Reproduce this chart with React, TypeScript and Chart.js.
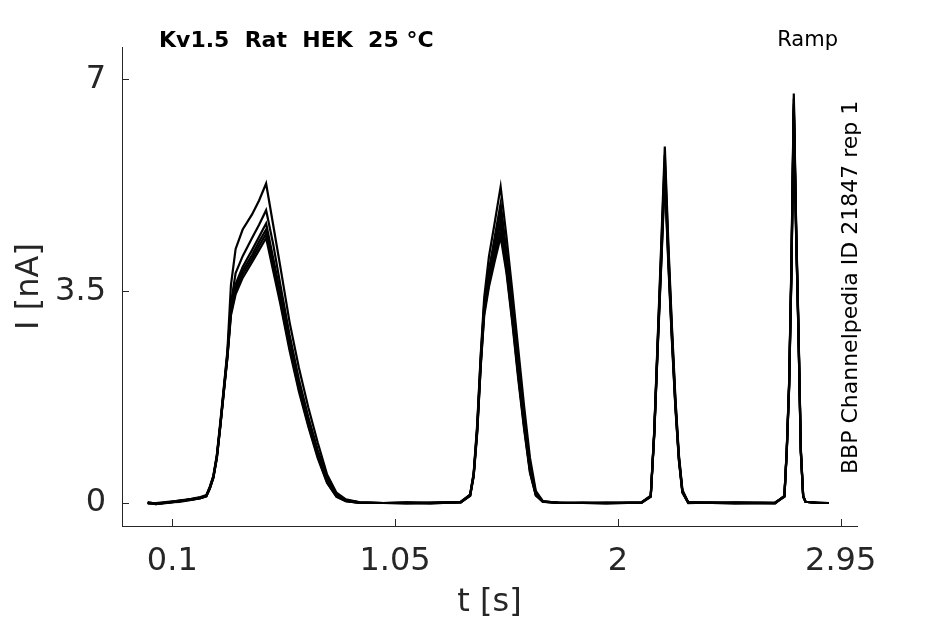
import React, { useEffect, useRef } from "react";
import { Chart, registerables } from "chart.js";

Chart.register(...registerables);

// sample times [s], shared by every sweep
const timeS = [
  -0.005, 0.03, 0.08, 0.13, 0.18, 0.22, 0.245, 0.26, 0.275, 0.29,
  0.305, 0.32, 0.335, 0.35, 0.37, 0.4, 0.44, 0.47, 0.5, 0.53,
  0.56, 0.6, 0.64, 0.68, 0.72, 0.76, 0.8, 0.84, 0.9, 1.0,
  1.1, 1.2, 1.33, 1.37, 1.385, 1.4, 1.415, 1.43, 1.45, 1.475,
  1.5, 1.525, 1.55, 1.575, 1.6, 1.625, 1.65, 1.68, 1.75, 1.85,
  1.95, 2.1, 2.14, 2.155, 2.17, 2.185, 2.2, 2.215, 2.23, 2.245,
  2.26, 2.275, 2.3, 2.4, 2.5, 2.67, 2.71, 2.72, 2.73, 2.74,
  2.75, 2.76, 2.77, 2.78, 2.79, 2.8, 2.85, 2.9,
];

// current [nA] per sweep
const sweepA = [
  0.0, -0.02, 0.01, 0.04, 0.07, 0.1, 0.13, 0.27, 0.45, 0.8,
  1.35, 1.93, 2.52, 3.6, 4.2, 4.52, 4.77, 5.0, 5.28, 4.6,
  3.92, 2.99, 2.23, 1.58, 1.0, 0.47, 0.17, 0.06, 0.01, 0.0,
  -0.01, 0.0, 0.02, 0.14, 0.5, 1.3, 2.45, 3.4, 4.07, 4.64,
  5.23, 4.4, 3.5, 2.55, 1.6, 0.75, 0.2, 0.03, 0.0, 0.0,
  -0.01, 0.01, 0.12, 1.2, 2.75, 4.3, 5.89, 4.3, 2.95, 1.75,
  0.8, 0.22, 0.01, 0.0, -0.01, 0.0, 0.12, 0.9, 2.0, 4.0,
  6.77, 4.6, 2.9, 0.9, 0.12, 0.02, 0.0, 0.0,
];
const sweepB = [
  0.01, -0.01, 0.0, 0.03, 0.06, 0.09, 0.12, 0.26, 0.44, 0.78,
  1.32, 1.9, 2.48, 3.3, 3.8, 4.08, 4.38, 4.6, 4.84, 4.28,
  3.62, 2.78, 2.04, 1.42, 0.88, 0.42, 0.15, 0.05, 0.01, 0.0,
  0.0, -0.01, 0.02, 0.14, 0.48, 1.25, 2.4, 3.3, 3.85, 4.4,
  4.95, 4.15, 3.3, 2.35, 1.45, 0.65, 0.17, 0.03, 0.0, 0.01,
  0.0, 0.0, 0.12, 1.18, 2.7, 4.2, 5.75, 4.2, 2.88, 1.7,
  0.77, 0.2, 0.01, 0.01, 0.0, -0.01, 0.12, 0.88, 1.97, 3.95,
  6.68, 4.55, 2.86, 0.88, 0.12, 0.02, 0.01, 0.0,
];
const sweepC = [
  -0.01, 0.0, 0.02, 0.03, 0.06, 0.09, 0.12, 0.25, 0.43, 0.77,
  1.3, 1.88, 2.45, 3.22, 3.62, 3.9, 4.18, 4.4, 4.62, 4.05,
  3.48, 2.68, 1.96, 1.36, 0.83, 0.38, 0.13, 0.04, 0.0, 0.0,
  0.01, 0.0, 0.01, 0.13, 0.47, 1.22, 2.35, 3.25, 3.75, 4.28,
  4.8, 4.0, 3.15, 2.22, 1.35, 0.58, 0.15, 0.02, 0.01, 0.0,
  0.0, 0.01, 0.11, 1.16, 2.66, 4.12, 5.62, 4.12, 2.82, 1.66,
  0.75, 0.19, 0.01, 0.0, 0.01, 0.0, 0.11, 0.87, 1.95, 3.9,
  6.6, 4.5, 2.83, 0.86, 0.11, 0.02, 0.0, 0.0,
];
const sweepD = [
  0.0, -0.02, 0.01, 0.04, 0.05, 0.08, 0.12, 0.25, 0.42, 0.76,
  1.29, 1.86, 2.43, 3.18, 3.56, 3.84, 4.1, 4.32, 4.52, 3.96,
  3.4, 2.62, 1.92, 1.32, 0.8, 0.36, 0.12, 0.04, 0.01, 0.0,
  0.0, 0.01, 0.01, 0.13, 0.46, 1.2, 2.3, 3.2, 3.68, 4.18,
  4.65, 3.92, 3.08, 2.15, 1.3, 0.55, 0.14, 0.02, 0.0, 0.0,
  0.01, 0.0, 0.11, 1.15, 2.63, 4.06, 5.52, 4.06, 2.78, 1.63,
  0.73, 0.18, 0.01, 0.0, 0.0, 0.01, 0.11, 0.86, 1.93, 3.86,
  6.55, 4.46, 2.8, 0.85, 0.11, 0.02, 0.0, 0.0,
];
const sweepE = [
  0.01, -0.01, 0.0, 0.03, 0.06, 0.08, 0.11, 0.24, 0.42, 0.75,
  1.28, 1.85, 2.41, 3.14, 3.5, 3.78, 4.04, 4.25, 4.45, 3.9,
  3.35, 2.57, 1.88, 1.29, 0.77, 0.34, 0.11, 0.03, 0.0, 0.0,
  0.0, 0.0, 0.02, 0.12, 0.45, 1.18, 2.27, 3.15, 3.62, 4.08,
  4.5, 3.85, 3.02, 2.1, 1.26, 0.52, 0.13, 0.02, 0.0, 0.0,
  0.0, 0.01, 0.11, 1.14, 2.6, 4.0, 5.45, 4.0, 2.74, 1.61,
  0.72, 0.18, 0.0, 0.01, 0.0, 0.0, 0.11, 0.85, 1.91, 3.83,
  6.5, 4.43, 2.78, 0.84, 0.11, 0.02, 0.0, 0.0,
];
const sweepF = [
  0.0, -0.01, 0.01, 0.02, 0.05, 0.08, 0.11, 0.24, 0.41, 0.74,
  1.27, 1.84, 2.4, 3.1, 3.45, 3.72, 3.98, 4.18, 4.38, 3.84,
  3.3, 2.52, 1.84, 1.26, 0.74, 0.33, 0.1, 0.03, 0.0, 0.0,
  0.01, 0.0, 0.01, 0.12, 0.44, 1.15, 2.25, 3.1, 3.57, 4.0,
  4.4, 3.8, 2.97, 2.05, 1.22, 0.5, 0.12, 0.02, 0.0, 0.0,
  0.0, 0.0, 0.1, 1.12, 2.57, 3.95, 5.38, 3.95, 2.7, 1.58,
  0.7, 0.17, 0.0, 0.0, 0.01, 0.0, 0.1, 0.84, 1.89, 3.8,
  6.45, 4.4, 2.76, 0.83, 0.1, 0.02, 0.0, 0.0,
];

const sweeps = [sweepA, sweepB, sweepC, sweepD, sweepE, sweepF];

const xTicks = [0.1, 1.05, 2, 2.95];
const yTicks = [0, 3.5, 7];

const titleText = "Kv1.5  Rat  HEK  25 °C";
const protocolText = "Ramp";
const sourceText = "BBP Channelpedia ID 21847 rep 1";

const AXIS_COLOR = "#262626";
const FONT = "'DejaVu Sans', sans-serif";

// matlab style ticks pointing into the plot
const innerTicks = {
  id: "innerTicks",
  afterDraw(chart: Chart) {
    const { ctx, chartArea, scales } = chart;
    const len = 7;
    ctx.save();
    ctx.strokeStyle = AXIS_COLOR;
    ctx.lineWidth = 1;
    ctx.beginPath();
    xTicks.forEach((v) => {
      const px = Math.round(scales.x.getPixelForValue(v)) + 0.5;
      ctx.moveTo(px, chartArea.bottom);
      ctx.lineTo(px, chartArea.bottom - len);
    });
    yTicks.forEach((v) => {
      const py = Math.round(scales.y.getPixelForValue(v)) + 0.5;
      ctx.moveTo(chartArea.left, py);
      ctx.lineTo(chartArea.left + len, py);
    });
    ctx.stroke();
    ctx.restore();
  },
};

const panelText = {
  id: "panelText",
  afterDraw(chart: Chart) {
    const { ctx } = chart;
    ctx.save();
    ctx.fillStyle = "#000";
    ctx.textBaseline = "alphabetic";
    ctx.font = `bold 22px ${FONT}`;
    ctx.textAlign = "left";
    ctx.fillText(titleText, 159, 47);
    ctx.font = `21px ${FONT}`;
    ctx.textAlign = "right";
    ctx.fillText(protocolText, 838, 46);
    ctx.translate(857, 474);
    ctx.rotate(-Math.PI / 2);
    ctx.textAlign = "left";
    ctx.font = `22px ${FONT}`;
    ctx.fillText(sourceText, 0, 0);
    ctx.restore();
  },
};

const App: React.FC = () => {
  const chartRef = useRef<HTMLCanvasElement>(null);
  const chartInstance = useRef<Chart | null>(null);

  useEffect(() => {
    if (!chartRef.current) return;
    if (chartInstance.current) chartInstance.current.destroy();
    const ctx = chartRef.current.getContext("2d");
    if (!ctx) return;

    chartInstance.current = new Chart(ctx, {
      type: "line",
      data: {
        datasets: sweeps.map((sweep, i) => ({
          label: `sweep ${i + 1}`,
          data: timeS.map((t, k) => ({ x: t, y: sweep[k] })),
          borderColor: "#000",
          borderWidth: 2.2,
          pointRadius: 0,
          tension: 0,
          fill: false,
        })),
      },
      options: {
        animation: false,
        responsive: true,
        maintainAspectRatio: false,
        layout: { padding: { left: 0, top: 47, right: 88, bottom: 0 } },
        plugins: {
          legend: { display: false },
          tooltip: { enabled: false },
          title: { display: false },
        },
        scales: {
          x: {
            type: "linear",
            min: -0.1145,
            max: 3.0195,
            afterBuildTicks: (scale: any) => {
              scale.ticks = xTicks.map((v) => ({ value: v }));
            },
            afterFit: (scale: any) => {
              scale.height = 98;
            },
            grid: { display: false, drawTicks: false },
            border: { display: true, color: AXIS_COLOR, width: 1 },
            ticks: {
              color: AXIS_COLOR,
              font: { family: FONT, size: 32 },
              padding: 16,
              maxRotation: 0,
              autoSkip: false,
              callback: (v: any) => String(Number(v)),
            },
            title: {
              display: true,
              text: "t [s]",
              color: AXIS_COLOR,
              font: { family: FONT, size: 32 },
              padding: { top: 0, bottom: 2 },
            },
          },
          y: {
            type: "linear",
            min: -0.38,
            max: 7.537,
            afterBuildTicks: (scale: any) => {
              scale.ticks = yTicks.map((v) => ({ value: v }));
            },
            afterFit: (scale: any) => {
              scale.width = 122;
            },
            grid: { display: false, drawTicks: false },
            border: { display: true, color: AXIS_COLOR, width: 1 },
            ticks: {
              color: AXIS_COLOR,
              font: { family: FONT, size: 32 },
              padding: 16,
              autoSkip: false,
              callback: (v: any) => String(Number(v)),
            },
            title: {
              display: true,
              text: "I [nA]",
              color: AXIS_COLOR,
              font: { family: FONT, size: 32 },
              padding: { top: 10, bottom: 0 },
            },
          },
        },
      },
      plugins: [innerTicks, panelText],
    });

    return () => {
      if (chartInstance.current) {
        chartInstance.current.destroy();
        chartInstance.current = null;
      }
    };
  }, []);

  return (
    <div
      style={{
        position: "fixed",
        left: 0,
        top: 0,
        width: 945,
        height: 624,
        background: "#fff",
      }}
    >
      <canvas ref={chartRef}></canvas>
    </div>
  );
};

export default App;
